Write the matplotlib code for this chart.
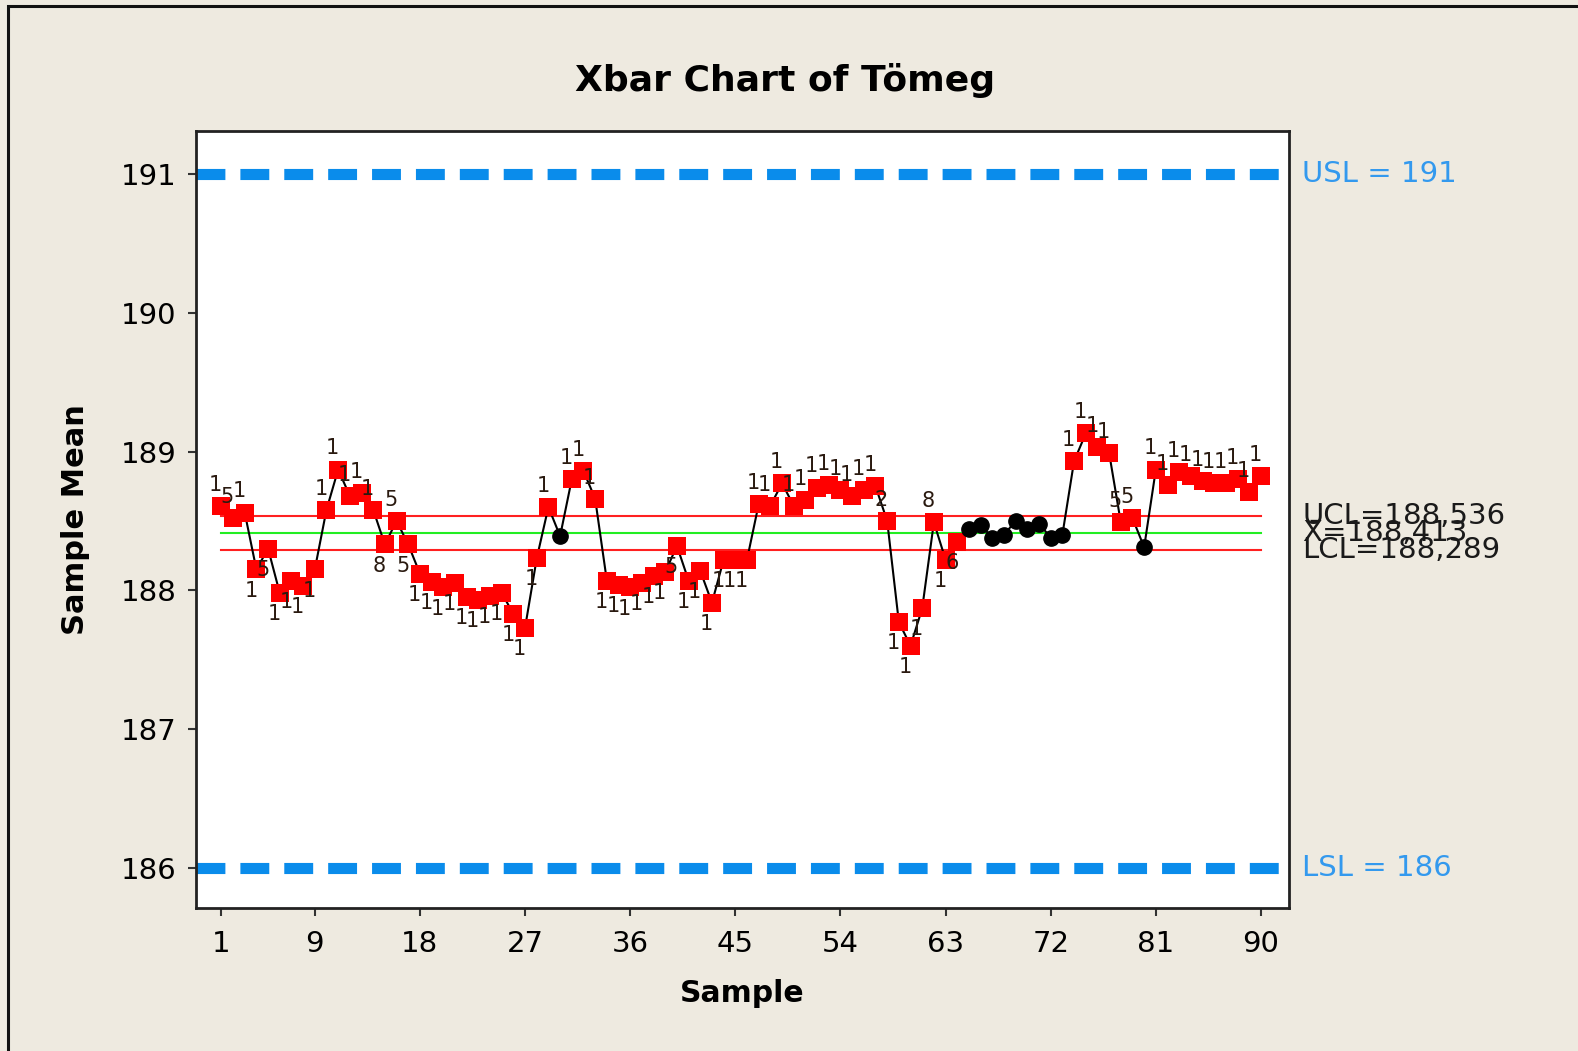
import matplotlib
matplotlib.use("Agg")
import matplotlib.pyplot as plt
from matplotlib.patches import Rectangle
import numpy as np

# ---------------- data ----------------
samples = list(range(1, 91))
means = [188.61, 188.52, 188.56, 188.15, 188.30, 187.98, 188.07, 188.03, 188.15, 188.58,
         188.87, 188.68, 188.70, 188.58, 188.33, 188.50, 188.33, 188.12, 188.06, 188.02,
         188.05, 187.95, 187.93, 187.96, 187.98, 187.83, 187.73, 188.23, 188.60, 188.39,
         188.80, 188.86, 188.66, 188.07, 188.04, 188.02, 188.05, 188.10, 188.13, 188.32,
         188.07, 188.14, 187.91, 188.22, 188.22, 188.22, 188.62, 188.61, 188.77, 188.61,
         188.65, 188.74, 188.76, 188.72, 188.68, 188.72, 188.75, 188.50, 187.77, 187.60,
         187.87, 188.49, 188.22, 188.35, 188.44, 188.47, 188.38, 188.40, 188.50, 188.44,
         188.48, 188.38, 188.40, 188.93, 189.13, 189.03, 188.99, 188.49, 188.52, 188.31,
         188.87, 188.76, 188.85, 188.82, 188.79, 188.77, 188.77, 188.80, 188.71, 188.82]
test_labels = (['1', '5', '1', '1', '5', '1', '1', '1', '1', '1',
                '1', '1', '1', '1', '8', '5', '5', '1', '1', '1',
                '1', '1', '1', '1', '1', '1', '1', '1', '1', '',
                '1', '1', '1', '1', '1', '1', '1', '1', '1', '5',
                '1', '1', '1', '1', '1', '1', '1', '1', '1', '1',
                '1', '1', '1', '1', '1', '1', '1', '2', '1', '1',
                '1', '8', '1', '6', '', '', '', '', '', '',
                '', '', '', '1', '1', '1', '1', '5', '5', '',
                '1', '1', '1', '1', '1', '1', '1', '1', '1', '1'])
UCL, CL, LCL = 188.536, 188.413, 188.289
USL, LSL = 191, 186
xticks = [1, 9, 18, 27, 36, 45, 54, 63, 72, 81, 90]
yticks = [186, 187, 188, 189, 190, 191]
title = "Xbar Chart of Tömeg"

# ---------------- figure ----------------
bg = "#EEEAE0"
fig = plt.figure(figsize=(15.78, 10.51), dpi=100, facecolor=bg)
fig.patches.append(Rectangle((8 / 1578, -0.1), 1.2, 1 - 6 / 1051 + 0.1,
                             transform=fig.transFigure, fill=False,
                             edgecolor="#111111", linewidth=2.2, zorder=0))
ax = fig.add_axes([196 / 1578, 1 - 908 / 1051, (1289 - 196) / 1578, (908 - 131) / 1051])
ax.set_facecolor("white")
Y0, Y1 = 185.71, 191.31
ax.set_xlim(-1.17, 92.4)
ax.set_ylim(Y0, Y1)

font = "DejaVu Sans"
blue = "#0A8CEB"

# spec limits
for v in (USL, LSL):
    ax.axhline(v, color=blue, linewidth=8, linestyle=(0, (2.6, 1.35)),
               dash_capstyle="butt", zorder=2)

# control limits
ax.plot([1, 90], [UCL, UCL], color="#FF2020", linewidth=1.5, zorder=3)
ax.plot([1, 90], [LCL, LCL], color="#FF2020", linewidth=1.5, zorder=3)
ax.plot([1, 90], [CL, CL], color="#22EE22", linewidth=1.5, zorder=3)

# data
x = np.array(samples)
y = np.array(means)
ax.plot(x, y, color="black", linewidth=1.5, zorder=4)
flag = np.array([lab != '' for lab in test_labels])
ax.plot(x[flag], y[flag], linestyle="none", marker="s", markersize=13.5,
        color="#FF0000", markeredgewidth=0, zorder=5)
ax.plot(x[~flag], y[~flag], linestyle="none", marker="o", markersize=11,
        color="black", zorder=5)

for xi, yi, lab in zip(samples, means, test_labels):
    if not lab:
        continue
    if yi >= CL:
        ax.annotate(lab, (xi, yi), xytext=(-4, 8), textcoords="offset points",
                    ha="center", va="bottom", fontsize=15, family=font,
                    color="#2a1a10", zorder=6)
    else:
        ax.annotate(lab, (xi, yi), xytext=(-4, -8), textcoords="offset points",
                    ha="center", va="top", fontsize=15, family=font,
                    color="#2a1a10", zorder=6)

# right-side labels
def yfrac(v):
    return (v - Y0) / (Y1 - Y0)

ax.text(1.012, yfrac(USL), "USL = 191", transform=ax.transAxes,
        color="#3399EE", fontsize=21, family=font, va="center", ha="left")
ax.text(1.012, yfrac(LSL), "LSL = 186", transform=ax.transAxes,
        color="#3399EE", fontsize=21, family=font, va="center", ha="left")
for val, lab in ((UCL, "UCL=188,536"), (CL, "X\u0304=188,413"), (LCL, "LCL=188,289")):
    ax.text(1.012, yfrac(val), lab, transform=ax.transAxes,
            color="#1a1a1a", fontsize=21, family=font, va="center", ha="left")

ax.set_xticks(xticks)
ax.set_yticks(yticks)
ax.set_xticklabels([str(t) for t in xticks], fontsize=21, family=font)
ax.set_yticklabels([str(t) for t in yticks], fontsize=21, family=font)
ax.tick_params(axis="x", direction="out", length=6, width=1.5, color="#333333", pad=10)
ax.tick_params(axis="y", direction="out", length=6, width=1.5, color="#333333", pad=8)
for s in ax.spines.values():
    s.set_linewidth(2)
    s.set_color("#222222")

ax.set_xlabel("Sample", fontsize=21.5, fontweight="bold", family=font, labelpad=15)
ax.set_ylabel("Sample Mean", fontsize=22, fontweight="bold", family=font, labelpad=22)
fig.text(785 / 1578, 1 - 80 / 1051, title, ha="center", va="center",
         fontsize=26, fontweight="bold", family=font)

fig.savefig("out.png", dpi=100, facecolor=bg)
